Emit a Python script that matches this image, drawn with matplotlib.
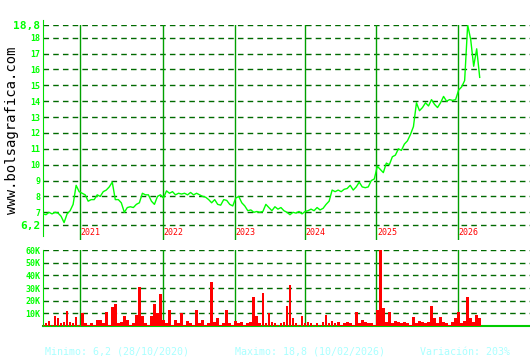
import numpy as np
import matplotlib
matplotlib.use("Agg")
import matplotlib.pyplot as plt

# price series, one sample every few sessions (Oct 2020 -> Feb 2026)
price = [6.9, 6.85, 7.0, 6.9, 7.0, 6.95, 6.75, 6.35, 6.9, 7.1,
         7.5, 8.7, 8.3, 8.2, 8.1, 7.7, 7.8, 7.8, 8.1, 8.0,
         8.3, 8.4, 8.6, 8.9, 7.8, 7.8, 7.6, 7.0, 7.3, 7.35,
         7.3, 7.5, 7.6, 8.2, 8.1, 8.1, 7.7, 7.5, 8.0, 8.1,
         7.9, 8.35, 8.2, 8.3, 8.1, 8.2, 8.15, 8.2, 8.1, 8.25,
         8.1, 8.2, 8.1, 8.0, 7.95, 7.8, 7.6, 7.8, 7.5, 7.45,
         7.8, 7.75, 7.5, 7.4, 7.9, 8.0, 7.6, 7.4, 7.1, 7.15,
         7.0, 7.05, 7.0, 7.05, 7.5, 7.3, 7.1, 7.35, 7.2, 7.3,
         7.1, 7.0, 6.85, 7.0, 6.95, 7.05, 6.9, 7.05, 7.1, 7.2,
         7.1, 7.3, 7.15, 7.25, 7.5, 7.7, 8.4, 8.3, 8.4, 8.3,
         8.45, 8.5, 8.7, 8.4, 8.6, 8.9, 8.6, 8.55, 8.6, 9.0,
         9.1, 9.9, 9.7, 9.5, 10.1, 10.0, 10.5, 10.6, 11.0, 10.9,
         11.3, 11.5, 11.9, 12.4, 13.9, 13.4, 13.6, 13.9, 13.7, 14.1,
         13.8, 13.6, 13.9, 14.3, 14.0, 14.1, 14.05, 14.1, 14.7, 14.9,
         15.3, 18.8, 17.9, 16.2, 17.3, 15.5]

# volume in thousands, same sampling
volume = [1, 2, 4, 1, 8, 6, 2, 3, 12, 3,
          2, 7, 1, 10, 2, 1, 2, 1, 5, 5,
          2, 11, 1, 15, 17, 2, 3, 8, 5, 1,
          2, 9, 31, 8, 2, 1, 8, 17, 10, 25,
          5, 2, 13, 1, 5, 2, 10, 1, 4, 2,
          1, 13, 2, 5, 1, 2, 35, 3, 6, 1,
          2, 13, 2, 1, 4, 2, 3, 1, 2, 3,
          23, 8, 2, 26, 2, 10, 3, 2, 1, 2,
          3, 16, 32, 6, 2, 1, 8, 2, 3, 2,
          1, 2, 1, 3, 9, 2, 4, 2, 3, 1,
          2, 3, 2, 1, 11, 2, 5, 3, 2, 2,
          1, 13, 60, 14, 3, 11, 2, 4, 3, 2,
          3, 2, 1, 7, 2, 4, 3, 2, 3, 16,
          6, 2, 7, 3, 2, 1, 3, 6, 11, 2,
          4, 23, 6, 3, 9, 6]

years = ["2021", "2022", "2023", "2024", "2025", "2026"]
year_start = [12.3, 39.7, 63.7, 87.0, 110.7, 137.7]

price_ticks = [6.2, 7, 8, 9, 10, 11, 12, 13, 14, 15, 16, 17, 18, 18.8]
vol_ticks = [10, 20, 30, 40, 50, 60]

GRID = "#006a00"
YEARLINE = "#00a000"
LABEL = "#00ff00"

x = np.arange(len(price))
xmax = 161.7

fig = plt.figure(figsize=(5.3, 3.6), dpi=100)

# price panel
ax = fig.add_axes([43/530, 1 - 240/360, 487/530, 215/360])
ax.set_xlim(0, xmax)
ax.set_ylim(5.255, 18.8)
for t in price_ticks:
    ax.axhline(t, color=GRID, lw=1, ls=(0, (4, 3)), zorder=1)
for xp in year_start:
    ax.axvline(xp, color=YEARLINE, lw=1, zorder=2)
ax.plot(x, price, color="#00ff00", lw=1, zorder=3)
for yr, xp in zip(years, year_start):
    ax.text(xp + 0.2, 5.7, yr, color="red", fontsize=6,
            family="DejaVu Sans Mono", ha="left", va="center")
ax.set_xticks([])
ax.set_yticks(price_ticks)
labels = [("%g" % t).replace(".", ",") for t in price_ticks]
ax.set_yticklabels(labels)
for lab, t in zip(ax.get_yticklabels(), price_ticks):
    lab.set_color(LABEL)
    lab.set_fontweight("bold")
    lab.set_fontsize(8 if t in (6.2, 18.8) else 6)
    lab.set_family("DejaVu Sans Mono")
ax.tick_params(axis="y", length=0, pad=2)
for s in ["top", "right", "bottom"]:
    ax.spines[s].set_visible(False)
ax.spines["left"].set_color("#00dd00")
ax.spines["left"].set_bounds(5.5, 19.1)
ax.patch.set_alpha(0)

# volume panel
av = fig.add_axes([43/530, 1 - 326/360, 487/530, 76/360])
av.set_xlim(0, xmax)
av.set_ylim(0, 60)
for t in vol_ticks:
    av.axhline(t, color=GRID, lw=1, ls=(0, (4, 3)), zorder=1)
for xp in year_start:
    av.axvline(xp, color=YEARLINE, lw=1, zorder=2)
av.bar(x, volume, width=0.9, color="red", zorder=3)
av.set_xticks([])
av.set_yticks(vol_ticks)
av.set_yticklabels(["%dK" % t for t in vol_ticks])
for lab in av.get_yticklabels():
    lab.set_color(LABEL)
    lab.set_fontweight("bold")
    lab.set_fontsize(6)
    lab.set_family("DejaVu Sans Mono")
av.tick_params(axis="y", length=0, pad=2)
for s in ["top", "right"]:
    av.spines[s].set_visible(False)
av.spines["left"].set_color("#00dd00")
av.spines["bottom"].set_color("#00cc00")
av.spines["bottom"].set_linewidth(1.5)
av.patch.set_alpha(0)

# watermark and summary line
fig.text(12/530, 1 - 130/360, "www.bolsagrafica.com", rotation=90,
         family="DejaVu Sans Mono", fontsize=10, color="black",
         ha="center", va="center")
foot = "#aaffff"
fig.text(45/530, 1 - 352/360, "Minimo: 6,2 (28/10/2020)", color=foot,
         family="DejaVu Sans Mono", fontsize=7.2, va="center")
fig.text(235/530, 1 - 352/360, "Maximo: 18,8 (10/02/2026)", color=foot,
         family="DejaVu Sans Mono", fontsize=7.2, va="center")
fig.text(420/530, 1 - 352/360, "Variación: 203%", color=foot,
         family="DejaVu Sans Mono", fontsize=7.2, va="center")

fig.savefig("out.png", dpi=100, facecolor="white")
